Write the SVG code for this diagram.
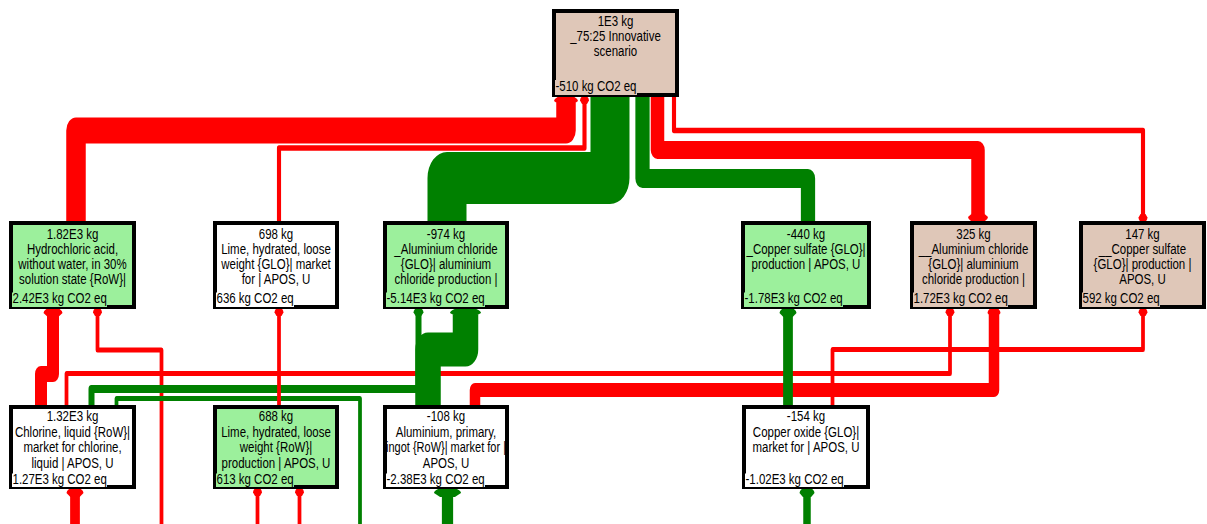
<svg xmlns="http://www.w3.org/2000/svg" xmlns:xlink="http://www.w3.org/1999/xlink" width="1207" height="524" viewBox="0 0 1207 524">
<defs>
<style>
.box{stroke:#000;stroke-width:4}
.fg{fill:#9cf09c}.ft{fill:#dfc7b8}.fw{fill:#fff}
text{font-family:"Liberation Sans",Arial,sans-serif;font-size:15.3px;fill:#000}
.c{text-anchor:middle}
.r{stroke:#f00;fill:none}.g{stroke:#008000;fill:none}
.rc{fill:#f00}.gc{fill:#008000}
</style>
<!-- arrow cap, tip at 0,0, body towards +y -->
<path id="cap" d="M-0.7,0 L0.7,0 Q1,0.25 1,0.5 L0.55,1 L-0.55,1 L-1,0.5 Q-1,0.25 -0.7,0 Z"/>
</defs>
<rect width="1207" height="524" fill="#fff"/>

<g id="connectors">
<g transform="scale(0.75 1)" stroke-linejoin="round">
<path class="r" stroke-width="26" d="M101.33,223 V130.5 H754.67 V103"/>
<path class="r" stroke-width="5.5" d="M372,223 V148 H779.33 V103"/>
<path class="g" stroke-width="52" d="M596,224 V178 H813.33 V95"/>
<path class="g" stroke-width="19" d="M1077.33,224 V178.5 H856.67 V95"/>
<path class="r" stroke-width="18" d="M876.67,95 V150 H1304 V214"/>
<path class="r" stroke-width="5.5" d="M898.67,95 V130.5 H1524 V215"/>
<path class="r" stroke-width="16" d="M54.67,408 V374 H70.67 V315"/>
<path class="r" stroke-width="5" d="M215.33,524 V350 H130 V315"/>
<path class="r" stroke-width="5" d="M88.67,408 V373.5 H1266.67 V315"/>
<path class="g" stroke-width="8" d="M122,408 V389 H558 V315"/>
<path class="g" stroke-width="5" d="M480,524 V398.5 H155.33 V408"/>
<path class="r" stroke-width="5" d="M372,408 V315"/>
<path class="r" stroke-width="5" d="M343.33,524 V495"/>
<path class="r" stroke-width="5" d="M399.33,524 V495"/>
<path class="g" stroke-width="34" d="M570.67,408 V349.5 H620.67 V315"/>
<path class="r" stroke-width="14" d="M633.33,408 V390 H1325.33 V315"/>
<path class="g" stroke-width="13" d="M1050.67,408 V315"/>
<path class="r" stroke-width="5" d="M1110,408 V349.5 H1524 V315"/>
<path class="g" stroke-width="15" d="M596.67,524 V495"/>
<path class="g" stroke-width="10" d="M1076,524 V495"/>
<path class="r" stroke-width="13" d="M100,524 V495"/>
</g>
<g id="caps">
<use xlink:href="#cap" class="rc" transform="translate(566 97) scale(12 8)"/>
<use xlink:href="#cap" class="rc" transform="translate(584.5 97) scale(4.5 7)"/>
<use xlink:href="#cap" class="rc" transform="translate(978 221) scale(10 -8)"/>
<use xlink:href="#cap" class="rc" transform="translate(1143 221) scale(4.5 -7)"/>
<use xlink:href="#cap" class="rc" transform="translate(53 309) scale(9.5 8)"/>
<use xlink:href="#cap" class="rc" transform="translate(97.5 309) scale(4.5 7)"/>
<use xlink:href="#cap" class="rc" transform="translate(950 309) scale(4.5 7)"/>
<use xlink:href="#cap" class="gc" transform="translate(418.5 309) scale(5 7)"/>
<use xlink:href="#cap" class="rc" transform="translate(279 309) scale(4.5 7)"/>
<use xlink:href="#cap" class="rc" transform="translate(257.5 489) scale(4.5 7)"/>
<use xlink:href="#cap" class="rc" transform="translate(299.5 489) scale(4.5 7)"/>
<use xlink:href="#cap" class="gc" transform="translate(465.5 309) scale(15.5 8)"/>
<use xlink:href="#cap" class="rc" transform="translate(994 309) scale(6.5 8)"/>
<use xlink:href="#cap" class="gc" transform="translate(788 309) scale(8.5 8)"/>
<use xlink:href="#cap" class="rc" transform="translate(1143 309) scale(4.5 7)"/>
<use xlink:href="#cap" class="gc" transform="translate(447.5 489) scale(13.5 8)"/>
<use xlink:href="#cap" class="gc" transform="translate(807 489) scale(7.5 8)"/>
<use xlink:href="#cap" class="rc" transform="translate(75 489) scale(8.5 8)"/>
</g>
</g>

<!-- top process -->
<g id="n-scenario">
<rect class="box ft" x="554" y="11" width="123" height="84"/>
<rect class="ft" x="555" y="80" width="82" height="15"/>
<g transform="translate(615.5 0) scale(0.75 1)"><text class="c" y="26.5">1E3 kg</text><text class="c" y="41.5">_75:25 Innovative</text><text class="c" y="56.5">scenario</text></g>
<g transform="translate(555.5 0) scale(0.75 1)"><text y="91">-510 kg CO2 eq</text></g>
</g>

<!-- second row -->
<g id="n-hcl">
<rect class="box fg" x="11" y="223" width="123" height="84"/>
<rect class="fg" x="12" y="292.5" width="95" height="14.5"/>
<g transform="translate(72.5 0) scale(0.75 1)"><text class="c" y="239">1.82E3 kg</text><text class="c" y="254">Hydrochloric acid,</text><text class="c" y="269">without water, in 30%</text><text class="c" y="284">solution state {RoW}|</text></g>
<g transform="translate(12.5 0) scale(0.75 1)"><text y="303.5">2.42E3 kg CO2 eq</text></g>
</g>

<g id="n-lime-glo">
<rect class="box fw" x="215" y="223" width="122" height="84"/>
<rect class="fw" x="216" y="292.5" width="78" height="14.5"/>
<g transform="translate(276 0) scale(0.75 1)"><text class="c" y="239">698 kg</text><text class="c" y="254">Lime, hydrated, loose</text><text class="c" y="269">weight {GLO}| market</text><text class="c" y="284">for | APOS, U</text></g>
<g transform="translate(216.5 0) scale(0.75 1)"><text y="303.5">636 kg CO2 eq</text></g>
</g>

<g id="n-alcl-neg">
<rect class="box fg" x="385" y="223" width="122" height="84"/>
<rect class="fg" x="386" y="292.5" width="99" height="14.5"/>
<g transform="translate(446 0) scale(0.75 1)"><text class="c" y="239">-974 kg</text><text class="c" y="254">_Aluminium chloride</text><text class="c" y="269">{GLO}| aluminium</text><text class="c" y="284">chloride production |</text></g>
<g transform="translate(386.5 0) scale(0.75 1)"><text y="303.5">-5.14E3 kg CO2 eq</text></g>
</g>

<g id="n-cuso4-neg">
<rect class="box fg" x="743" y="223" width="126" height="84"/>
<rect class="fg" x="744" y="292.5" width="99" height="14.5"/>
<g transform="translate(806 0) scale(0.75 1)"><text class="c" y="239">-440 kg</text><text class="c" y="254">_Copper sulfate {GLO}|</text><text class="c" y="269">production | APOS, U</text></g>
<g transform="translate(744.5 0) scale(0.75 1)"><text y="303.5">-1.78E3 kg CO2 eq</text></g>
</g>

<g id="n-alcl">
<rect class="box ft" x="912" y="223" width="123" height="84"/>
<rect class="ft" x="913" y="292.5" width="95" height="14.5"/>
<g transform="translate(973.5 0) scale(0.75 1)"><text class="c" y="239">325 kg</text><text class="c" y="254">__Aluminium chloride</text><text class="c" y="269">{GLO}| aluminium</text><text class="c" y="284">chloride production |</text></g>
<g transform="translate(913.5 0) scale(0.75 1)"><text y="303.5">1.72E3 kg CO2 eq</text></g>
</g>

<g id="n-cuso4">
<rect class="box ft" x="1081" y="223" width="123" height="84"/>
<rect class="ft" x="1082" y="292.5" width="78" height="14.5"/>
<g transform="translate(1142.5 0) scale(0.75 1)"><text class="c" y="239">147 kg</text><text class="c" y="254">__Copper sulfate</text><text class="c" y="269">{GLO}| production |</text><text class="c" y="284">APOS, U</text></g>
<g transform="translate(1082.5 0) scale(0.75 1)"><text y="303.5">592 kg CO2 eq</text></g>
</g>

<!-- third row -->
<g id="n-chlorine">
<rect class="box fw" x="11" y="407" width="123" height="80"/>
<rect class="fw" x="12" y="473.5" width="95" height="13.5"/>
<g transform="translate(72.5 0) scale(0.75 1)"><text class="c" y="421.5">1.32E3 kg</text><text class="c" y="437">Chlorine, liquid {RoW}|</text><text class="c" y="452.5">market for chlorine,</text><text class="c" y="468">liquid | APOS, U</text></g>
<g transform="translate(12.5 0) scale(0.75 1)"><text y="484.5">1.27E3 kg CO2 eq</text></g>
</g>

<g id="n-lime-row">
<rect class="box fg" x="215" y="407" width="122" height="80"/>
<rect class="fg" x="216" y="473.5" width="78" height="13.5"/>
<g transform="translate(276 0) scale(0.75 1)"><text class="c" y="421.5">688 kg</text><text class="c" y="437">Lime, hydrated, loose</text><text class="c" y="452.5">weight {RoW}|</text><text class="c" y="468">production | APOS, U</text></g>
<g transform="translate(216.5 0) scale(0.75 1)"><text y="484.5">613 kg CO2 eq</text></g>
</g>

<g id="n-aluminium">
<rect class="box fw" x="385" y="407" width="122" height="80"/>
<rect class="fw" x="386" y="473.5" width="99" height="13.5"/>
<g transform="translate(446 0) scale(0.75 1)"><text class="c" y="421.5">-108 kg</text><text class="c" y="437">Aluminium, primary,</text><text class="c" y="452.5" textLength="160" lengthAdjust="spacingAndGlyphs">ingot {RoW}| market for |</text><text class="c" y="468">APOS, U</text></g>
<g transform="translate(386.5 0) scale(0.75 1)"><text y="484.5">-2.38E3 kg CO2 eq</text></g>
</g>

<g id="n-cuo">
<rect class="box fw" x="744" y="407" width="124" height="80"/>
<rect class="fw" x="745" y="473.5" width="99" height="13.5"/>
<g transform="translate(806 0) scale(0.75 1)"><text class="c" y="421.5">-154 kg</text><text class="c" y="437">Copper oxide {GLO}|</text><text class="c" y="452.5">market for | APOS, U</text></g>
<g transform="translate(745.5 0) scale(0.75 1)"><text y="484.5">-1.02E3 kg CO2 eq</text></g>
</g>
</svg>
